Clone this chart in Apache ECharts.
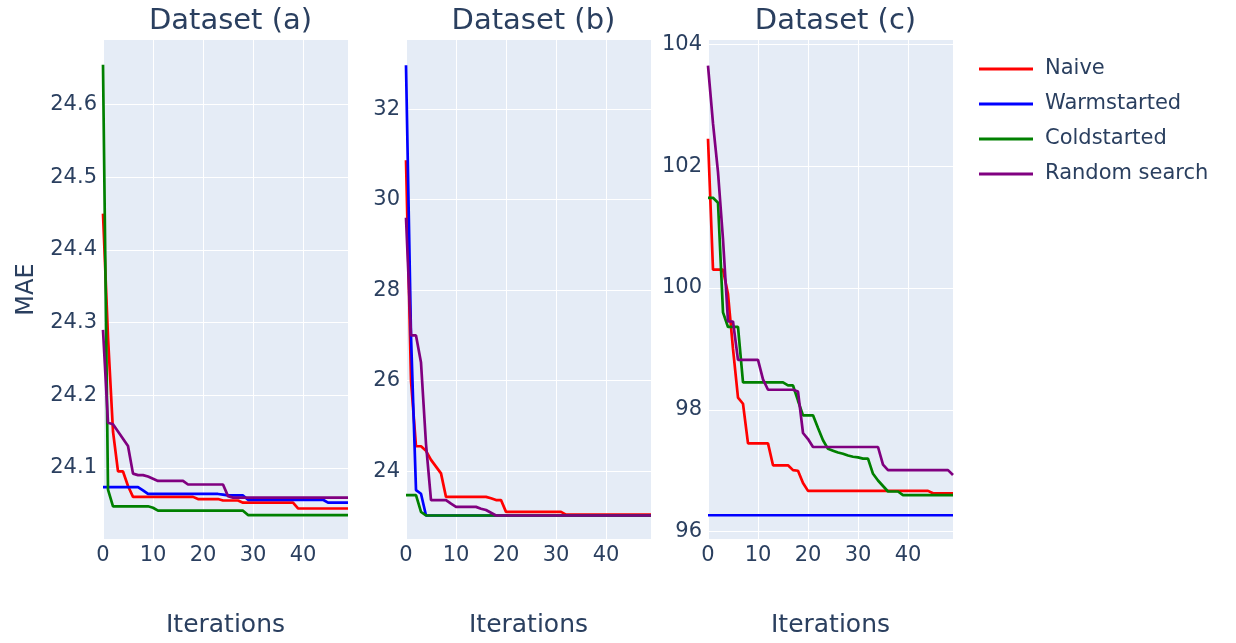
<!DOCTYPE html>
<html><head><meta charset="utf-8">
<script src="https://cdn.jsdelivr.net/npm/echarts@6/dist/echarts.min.js"></script>
<style>html,body{margin:0;padding:0;background:#fff}#c{width:1236px;height:643px}</style>
</head><body><div id="c"></div>
<script>
const seriesNames = ['Naive', 'Warmstarted', 'Coldstarted', 'Random search'];
const panelTitles = ['Dataset (a)', 'Dataset (b)', 'Dataset (c)'];
const xTicks = [0, 10, 20, 30, 40];
const yTicksA = [24.1, 24.2, 24.3, 24.4, 24.5, 24.6];
const yTicksB = [24, 26, 28, 30, 32];
const yTicksC = [96, 98, 100, 102, 104];

const naiveA = [24.45,24.28,24.15,24.095,24.095,24.075,
 24.06,24.06,24.06,24.06,24.06,24.06,24.06,24.06,24.06,24.06,24.06,24.06,24.06,
 24.057,24.057,24.057,24.057,24.057,
 24.055,24.055,24.055,24.055,
 24.052,24.052,24.052,24.052,24.052,24.052,24.052,24.052,24.052,24.052,24.052,
 24.044,24.044,24.044,24.044,24.044,24.044,24.044,24.044,24.044,24.044,24.044];
const warmA = [24.0735,24.0735,24.0735,24.0735,24.0735,24.0735,24.0735,24.0735,24.069,
 24.064,24.064,24.064,24.064,24.064,24.064,24.064,24.064,24.064,24.064,24.064,24.064,24.064,24.064,24.064,
 24.063,24.062,24.062,24.062,24.062,
 24.056,24.056,24.056,24.056,24.056,24.056,24.056,24.056,24.056,24.056,24.056,24.056,24.056,24.056,24.056,24.056,
 24.052,24.052,24.052,24.052,24.052];
const coldA = [24.655,24.07,
 24.047,24.047,24.047,24.047,24.047,24.047,24.047,24.047,
 24.045,
 24.041,24.041,24.041,24.041,24.041,24.041,24.041,24.041,24.041,24.041,24.041,24.041,24.041,24.041,24.041,24.041,24.041,24.041,
 24.035,24.035,24.035,24.035,24.035,24.035,24.035,24.035,24.035,24.035,24.035,24.035,24.035,24.035,24.035,24.035,24.035,24.035,24.035,24.035,24.035];
const randomA = [24.29,24.162,24.16,24.15,24.14,24.13,24.092,24.09,24.09,24.088,24.085,
 24.082,24.082,24.082,24.082,24.082,24.082,
 24.077,24.077,24.077,24.077,24.077,24.077,24.077,24.077,
 24.061,
 24.059,24.059,24.059,24.059,24.059,24.059,24.059,24.059,24.059,24.059,24.059,24.059,24.059,24.059,24.059,24.059,24.059,24.059,24.059,24.059,24.059,24.059,24.059,24.059];

const naiveB = [30.87,26.0,24.55,24.55,24.45,24.25,24.1,23.95,
 23.43,23.43,23.43,23.43,23.43,23.43,23.43,23.43,23.43,
 23.4,23.36,23.36,
 23.1,23.1,23.1,23.1,23.1,23.1,23.1,23.1,23.1,23.1,23.1,23.1,
 23.04,23.04,23.04,23.04,23.04,23.04,23.04,23.04,23.04,23.04,23.04,23.04,23.04,23.04,23.04,23.04,23.04,23.04];
const warmB = [32.97,27.0,23.58,23.5,
 23.02,23.02,23.02,23.02,23.02,23.02,23.02,23.02,23.02,23.02,23.02,23.02,23.02,23.02,23.02,23.02,23.02,23.02,23.02,
 23.02,23.02,23.02,23.02,23.02,23.02,23.02,23.02,23.02,23.02,23.02,23.02,23.02,23.02,23.02,23.02,23.02,23.02,23.02,
 23.02,23.02,23.02,23.02,23.02,23.02,23.02,23.02];
const coldB = [23.47,23.47,23.47,23.1,
 23.02,23.02,23.02,23.02,23.02,23.02,23.02,23.02,23.02,23.02,23.02,23.02,23.02,23.02,23.02,23.02,23.02,23.02,23.02,
 23.02,23.02,23.02,23.02,23.02,23.02,23.02,23.02,23.02,23.02,23.02,23.02,23.02,23.02,23.02,23.02,23.02,23.02,23.02,
 23.02,23.02,23.02,23.02,23.02,23.02,23.02,23.02];
const randomB = [29.6,27.0,27.0,26.4,24.6,
 23.36,23.36,23.36,23.36,23.28,
 23.21,23.21,23.21,23.21,23.21,
 23.17,23.14,23.08,
 23.02,23.02,23.02,23.02,23.02,23.02,23.02,23.02,23.02,23.02,23.02,23.02,23.02,23.02,23.02,23.02,
 23.02,23.02,23.02,23.02,23.02,23.02,23.02,23.02,23.02,23.02,23.02,23.02,23.02,23.02,23.02,23.02];

const naiveC = [102.45,100.3,100.3,100.3,99.9,99.0,98.2,98.1,
 97.45,97.45,97.45,97.45,97.45,
 97.09,97.09,97.09,97.09,
 97.01,97.0,96.8,
 96.67,96.67,96.67,96.67,96.67,96.67,96.67,96.67,96.67,96.67,96.67,96.67,96.67,96.67,96.67,96.67,96.67,96.67,96.67,96.67,96.67,96.67,96.67,96.67,96.67,
 96.63,96.63,96.63,96.63,96.63];
const warmC = [96.27,96.27,96.27,96.27,96.27,96.27,96.27,96.27,96.27,96.27,
 96.27,96.27,96.27,96.27,96.27,96.27,96.27,96.27,96.27,96.27,
 96.27,96.27,96.27,96.27,96.27,96.27,96.27,96.27,96.27,96.27,
 96.27,96.27,96.27,96.27,96.27,96.27,96.27,96.27,96.27,96.27,
 96.27,96.27,96.27,96.27,96.27,96.27,96.27,96.27,96.27,96.27];
const coldC = [101.48,101.48,101.4,99.6,99.36,99.36,99.36,
 98.45,98.45,98.45,98.45,98.45,98.45,98.45,98.45,98.45,
 98.4,98.4,98.15,97.91,97.91,97.91,97.7,97.5,97.36,97.33,97.3,97.28,97.25,97.23,97.22,97.2,97.2,
 96.95,96.84,96.75,96.66,96.66,96.66,
 96.6,96.6,96.6,96.6,96.6,96.6,96.6,96.6,96.6,96.6,96.6];
const randomC = [103.65,102.7,101.9,100.8,99.45,99.45,
 98.82,98.82,98.82,98.82,98.82,
 98.5,
 98.33,98.33,98.33,98.33,98.33,98.33,
 98.3,97.62,97.52,
 97.39,97.39,97.39,97.39,97.39,97.39,97.39,97.39,97.39,97.39,97.39,97.39,97.39,97.39,
 97.1,
 97.01,97.01,97.01,97.01,97.01,97.01,97.01,97.01,97.01,97.01,97.01,97.01,97.01,
 96.93];

const panelData = [
  [naiveA, warmA, coldA, randomA],
  [naiveB, warmB, coldB, randomB],
  [naiveC, warmC, coldC, randomC]
];
const yRanges = [[24.002, 24.689], [22.5, 33.53], [95.88, 104.07]];
const yTickSets = [yTicksA, yTicksB, yTicksC];

const FONT = '"DejaVu Sans", Verdana, sans-serif';
const TXT = '#2a3f5f';
const colors = ['#ff0000', '#0000ff', '#008000', '#800080'];
const gridLefts = [103, 406, 708];
const gridW = 245;

const grids = gridLefts.map(l => ({ left: l, top: 40, width: gridW, height: 499, show: true, backgroundColor: '#E5ECF6', borderWidth: 0 }));

const xAxes = gridLefts.map((l, i) => ({
  type: 'value', gridIndex: i, min: 0, max: 49,
  name: 'Iterations', nameLocation: 'middle', nameGap: 74,
  nameTextStyle: { fontFamily: FONT, fontSize: 25, color: TXT },
  axisLine: { show: false }, axisTick: { show: false, customValues: xTicks },
  axisLabel: { customValues: xTicks, fontFamily: FONT, fontSize: 21, color: TXT, margin: 6 },
  splitLine: { show: true, lineStyle: { color: '#ffffff', width: 1 } }
}));

const yAxes = gridLefts.map((l, i) => ({
  type: 'value', gridIndex: i, min: yRanges[i][0], max: yRanges[i][1],
  name: i === 0 ? 'MAE' : '', nameLocation: 'middle', nameGap: 64, nameRotate: 90,
  nameTextStyle: { fontFamily: FONT, fontSize: 24, color: TXT },
  axisLine: { show: false }, axisTick: { show: false, customValues: yTickSets[i] },
  axisLabel: { customValues: yTickSets[i], fontFamily: FONT, fontSize: 21, color: TXT, margin: 6 },
  splitLine: { show: true, lineStyle: { color: '#ffffff', width: 1 } }
}));

const series = [];
panelData.forEach((arrs, p) => {
  arrs.forEach((arr, s) => {
    series.push({
      name: seriesNames[s], type: 'line', xAxisIndex: p, yAxisIndex: p,
      data: arr.map((v, k) => [k, v]),
      showSymbol: false, symbol: 'none',
      lineStyle: { color: colors[s], width: 2.7 }, itemStyle: { color: colors[s] },
      clip: true
    });
  });
});

const chart = echarts.init(document.getElementById('c'), null, { renderer: 'canvas' });
chart.setOption({
  animation: false,
  backgroundColor: '#ffffff',
  title: panelTitles.map((t, i) => ({
    text: t, left: gridLefts[i] + gridW / 2, top: 2, textAlign: 'center',
    textStyle: { fontFamily: FONT, fontSize: 29, fontWeight: 'normal', color: TXT }
  })),
  legend: {
    data: seriesNames, orient: 'vertical', left: 974, top: 52,
    icon: 'rect', itemWidth: 54, itemHeight: 3, itemGap: 11,
    textStyle: { fontFamily: FONT, fontSize: 21, color: TXT, lineHeight: 24, padding: [0, 0, 0, 7] }
  },
  grid: grids,
  xAxis: xAxes,
  yAxis: yAxes,
  series: series
});
</script></body></html>
